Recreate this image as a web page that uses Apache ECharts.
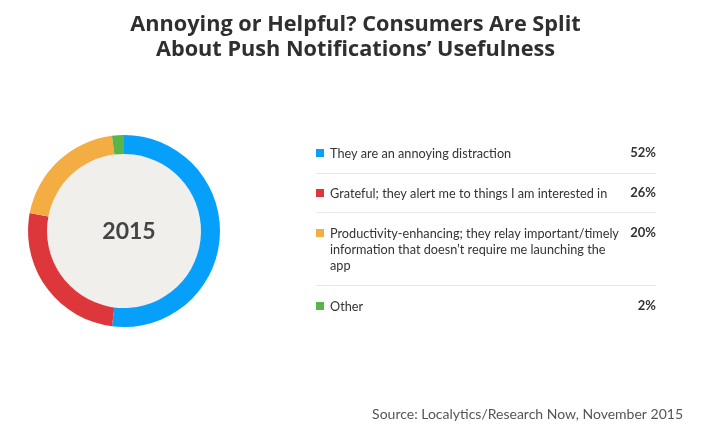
<!DOCTYPE html>
<html><head><meta charset="utf-8">
<script src="https://cdn.jsdelivr.net/npm/echarts@6/dist/echarts.min.js"></script>
<style>html,body{margin:0;padding:0;background:#fff}#c{width:711px;height:431px}</style>
</head><body><div id="c"></div>
<script>
const categories = [
  "They are an annoying distraction",
  "Grateful; they alert me to things I am interested in",
  "Productivity-enhancing; they relay important/timely\ninformation that doesn\u2019t require me launching the\napp",
  "Other"
];
const values = [52, 26, 20, 2];
const colors = ["#069ffa", "#dd373b", "#f4ad43", "#59b44a"];
const centerLabel = "2015";
const titleText = "Annoying or Helpful? Consumers Are Split\nAbout Push Notifications\u2019 Usefulness";
const sourceText = "Source: Localytics/Research Now, November 2015";

const FONT = "Lato, 'Open Sans', sans-serif";
const rowTops = [146, 186, 226, 299];
const sepYs = [173, 212, 285];
const graphics = [];
categories.forEach((c, i) => {
  graphics.push({type:'rect', shape:{x:316, y:rowTops[i]+3, width:8, height:8}, style:{fill:colors[i]}});
  graphics.push({type:'text', x:330, y:rowTops[i], style:{text:c, font:"12.7px " + FONT, fill:'#333', lineHeight:16, textVerticalAlign:'top'}});
  graphics.push({type:'text', x:656, y:rowTops[i], style:{text:values[i] + '%', font:"bold 13px " + FONT, fill:'#333', textAlign:'right', textVerticalAlign:'top'}});
});
sepYs.forEach(y => graphics.push({type:'line', shape:{x1:316, y1:y+0.5, x2:656, y2:y+0.5}, style:{stroke:'#e8e8e8', lineWidth:1}}));

const chart = echarts.init(document.getElementById('c'), null, {renderer:'canvas'});
chart.setOption({
  animation:false,
  title:[
    {text:titleText, left:'center', top:7, textStyle:{fontFamily:"'Open Sans', sans-serif", fontWeight:'bold', fontSize:21.7, color:'#2f2f2f', lineHeight:25}},
    {text:sourceText, right:23, top:402, textStyle:{fontFamily:FONT, fontWeight:'normal', fontSize:14, color:'#555'}},
    {text:centerLabel, left:124, top:215, textAlign:'center', textStyle:{fontFamily:FONT, fontWeight:'bold', fontSize:23, color:'#444'}}
  ],
  series:[
    {type:'pie', center:[124,231], radius:[0,77], silent:true, label:{show:false}, labelLine:{show:false},
     data:[{value:1, itemStyle:{color:'#f0efeb'}}], z:1},
    {type:'pie', center:[124,231], radius:[77,96], startAngle:90, clockwise:true, silent:true,
     label:{show:false}, labelLine:{show:false},
     data: categories.map((c,i)=>({name:c, value:values[i], itemStyle:{color:colors[i]}})), z:2}
  ],
  graphic: graphics
});
</script></body></html>
